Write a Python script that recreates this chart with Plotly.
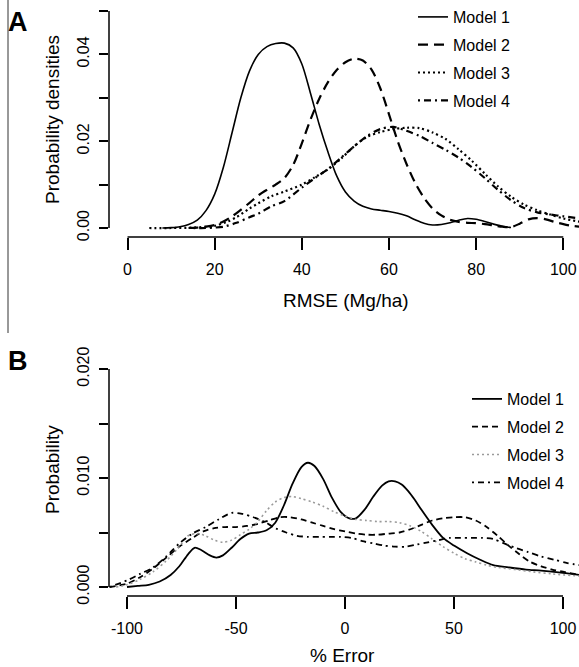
import plotly.graph_objects as go

# ---------------- Panel A data (RMSE, Mg/ha) ----------------
a_m1_x = [8, 10, 12, 14, 16, 18, 20, 22, 24, 26, 28, 30, 32, 34, 36, 38, 40, 42, 44, 46, 48, 50, 52, 54, 56, 58, 60, 62, 64,
          66, 68, 70, 72, 74, 76, 78, 80, 82, 84, 86, 88]
a_m1_y = [0.0, 0.0001, 0.0003, 0.0008, 0.0018, 0.0040, 0.0078, 0.0140, 0.0220, 0.0300, 0.0362, 0.0400, 0.0418, 0.0425, 0.0426,
          0.0415, 0.0378, 0.0310, 0.0238, 0.0175, 0.0120, 0.0083, 0.0062, 0.0050, 0.0044, 0.0041, 0.0038, 0.0034, 0.0028,
          0.0019, 0.0011, 0.0007, 0.0008, 0.0012, 0.0018, 0.0022, 0.0020, 0.0015, 0.0009, 0.0004, 0.0001]

a_m2_x = [14, 16, 18, 20, 22, 24, 26, 28, 30, 32, 34, 36, 38, 40, 42, 44, 46, 48, 50, 52, 54, 56, 58, 60, 62, 64, 66, 68, 70,
          72, 74, 76, 78, 80, 82, 84, 86, 88, 90, 92, 94, 96, 98, 100, 102, 104]
a_m2_y = [0.0, 0.0001, 0.0003, 0.0007, 0.0015, 0.0027, 0.0042, 0.0058, 0.0075, 0.0088, 0.0100, 0.0115, 0.0145, 0.0195, 0.0250,
          0.0298, 0.0336, 0.0364, 0.0382, 0.0390, 0.0386, 0.0365, 0.0322, 0.0262, 0.0200, 0.0148, 0.0104, 0.0070, 0.0045,
          0.0029, 0.0019, 0.0014, 0.0012, 0.0011, 0.0009, 0.0006, 0.0003, 0.0002, 0.0010, 0.0020, 0.0023, 0.0020, 0.0014,
          0.0009, 0.0005, 0.0003]

a_m3_x = [5, 10, 15, 20, 23, 25, 28, 30, 33, 36, 40, 43, 46, 49, 52, 55, 58, 61, 64, 67, 70, 73, 76, 79, 82, 85, 88, 91, 94, 97,
          100, 104]
a_m3_y = [0.0, 0.0, 0.0001, 0.0005, 0.0015, 0.0025, 0.0045, 0.0057, 0.0073, 0.0084, 0.0100, 0.0117, 0.0135, 0.016, 0.0188,
          0.021, 0.0221, 0.0228, 0.0231, 0.0230, 0.0220, 0.0205, 0.0181, 0.0155, 0.0125, 0.0096, 0.0072, 0.0054, 0.0041, 0.0031,
          0.0022, 0.0014]

a_m4_x = [15, 18, 20, 22, 25, 28, 30, 33, 36, 40, 43, 46, 49, 52, 55, 58, 61, 64, 67, 70, 73, 76, 79, 82, 85, 88, 91, 94, 97,
          100, 104]
a_m4_y = [0.0, 0.0, 0.0001, 0.0003, 0.0012, 0.0025, 0.0033, 0.0050, 0.0062, 0.0093, 0.0115, 0.0136, 0.0162, 0.0188, 0.0212,
          0.0228, 0.0233, 0.0224, 0.0212, 0.0196, 0.0180, 0.0162, 0.0140, 0.0115, 0.0088, 0.0064, 0.0046, 0.0036, 0.0031,
          0.0027, 0.0022]

# ---------------- Panel B data (% Error) ----------------
b_m1_x = [-100, -95, -90, -85, -80, -76, -72, -69, -66, -62, -59, -56, -52, -48, -44, -40, -36, -32, -28, -24, -20, -17, -14,
          -10, -6, -2, 2, 5, 9, 13, 17, 20, 23, 26, 29, 32, 35, 40, 45, 50, 56, 62, 68, 75, 83, 90, 100, 108]
b_m1_y = [0.0, 0.0001, 0.0002, 0.0005, 0.0011, 0.0019, 0.0030, 0.0036, 0.0034, 0.0029, 0.0027, 0.0029, 0.0036, 0.0044, 0.0049,
          0.0050, 0.0052, 0.0059, 0.0075, 0.0095, 0.0110, 0.0114, 0.0111, 0.0099, 0.0082, 0.0069, 0.0063, 0.0063, 0.0071,
          0.0083, 0.0093, 0.0097, 0.0097, 0.0094, 0.0088, 0.0080, 0.0071, 0.0057, 0.0045, 0.0038, 0.0031, 0.0025, 0.0020,
          0.0018, 0.0016, 0.0015, 0.0013, 0.0011]

b_m2_x = [-108, -100, -94, -88, -82, -76, -70, -65, -60, -55, -50, -45, -40, -35, -30, -25, -20, -15, -10, -5, 0, 5, 10, 15,
          20, 25, 30, 35, 40, 45, 50, 55, 60, 65, 70, 75, 80, 85, 90, 95, 100, 108]
b_m2_y = [0.0, 0.0003, 0.0009, 0.0017, 0.0027, 0.0037, 0.0045, 0.0051, 0.0054, 0.0055, 0.0055, 0.0056, 0.0058, 0.0061, 0.0064,
          0.0064, 0.0062, 0.0059, 0.0056, 0.0053, 0.0051, 0.0049, 0.0048, 0.0048, 0.0049, 0.0050, 0.0053, 0.0057, 0.0061,
          0.0063, 0.0064, 0.0064, 0.0061, 0.0055, 0.0047, 0.0038, 0.0030, 0.0023, 0.0019, 0.0016, 0.0014, 0.0011]

b_m3_x = [-105, -100, -94, -88, -82, -76, -72, -68, -64, -60, -56, -52, -48, -44, -40, -36, -32, -28, -24, -20, -15, -10, -5,
          0, 5, 10, 15, 20, 25, 30, 35, 40, 45, 50, 55, 60, 65, 70, 78, 86, 95, 108]
b_m3_y = [0.0, 0.0002, 0.0007, 0.0014, 0.0024, 0.0037, 0.0047, 0.0049, 0.0047, 0.0043, 0.0041, 0.0043, 0.0048, 0.0053, 0.0060,
          0.0070, 0.0078, 0.0082, 0.0083, 0.0081, 0.0078, 0.0074, 0.0069, 0.0065, 0.0062, 0.0061, 0.0060, 0.0060, 0.0059,
          0.0056, 0.0051, 0.0044, 0.0037, 0.0031, 0.0026, 0.0023, 0.0020, 0.0018, 0.0016, 0.0014, 0.0012, 0.0010]

b_m4_x = [-108, -100, -94, -88, -82, -76, -70, -64, -58, -52, -47, -42, -37, -32, -27, -22, -17, -12, -7, -2, 3, 8, 13, 18, 23,
          28, 33, 38, 43, 48, 53, 58, 63, 68, 73, 78, 84, 90, 96, 102, 108]
b_m4_y = [0.0, 0.0006, 0.0012, 0.0018, 0.0028, 0.0040, 0.0049, 0.0055, 0.0062, 0.0068, 0.0067, 0.0064, 0.0060, 0.0054, 0.0050,
          0.0047, 0.0046, 0.0046, 0.0046, 0.0046, 0.0045, 0.0042, 0.0040, 0.0038, 0.0037, 0.0037, 0.0039, 0.0041, 0.0043,
          0.0045, 0.0045, 0.0045, 0.0045, 0.0044, 0.0040, 0.0036, 0.0032, 0.0028, 0.0025, 0.0022, 0.0020]

model_names = ["Model 1", "Model 2", "Model 3", "Model 4"]

a_xticks = [0, 20, 40, 60, 80, 100]
a_yticks = [0, 0.01, 0.02, 0.03, 0.04, 0.05]
a_yticklabels = ["0.00", "", "0.02", "", "0.04", ""]
b_xticks = [-100, -50, 0, 50, 100]
b_xticklabels = ["-100", "-50", "0", "50", "100"]
b_yticks = [0, 0.005, 0.010, 0.015, 0.020]
b_yticklabels = ["0.000", "", "0.010", "", "0.020"]

FONT = "Liberation Sans, Arial, Helvetica, sans-serif"
W, H = 579, 667

a_styles = [dict(color="black", width=1.6, dash="solid"),
            dict(color="black", width=2.2, dash="10px,6px"),
            dict(color="black", width=2.2, dash="2px,3px"),
            dict(color="black", width=2.2, dash="2px,4px,7px,4px")]
b_styles = [dict(color="black", width=1.8, dash="solid"),
            dict(color="black", width=1.8, dash="6px,4px"),
            dict(color="#9a9a9a", width=1.6, dash="2px,3px"),
            dict(color="black", width=1.8, dash="2px,4px,6px,4px")]

fig = go.Figure()
a_data = [(a_m1_x, a_m1_y), (a_m2_x, a_m2_y), (a_m3_x, a_m3_y), (a_m4_x, a_m4_y)]
b_data = [(b_m1_x, b_m1_y), (b_m2_x, b_m2_y), (b_m3_x, b_m3_y), (b_m4_x, b_m4_y)]
for i, (xs, ys) in enumerate(a_data):
    fig.add_trace(go.Scatter(x=xs, y=ys, mode="lines", name=model_names[i], line=dict(shape="spline", smoothing=0.8, **a_styles[i]),
                             xaxis="x", yaxis="y", legend="legend", legendgroup="a%d" % i))
for i, (xs, ys) in enumerate(b_data):
    fig.add_trace(go.Scatter(x=xs, y=ys, mode="lines", name=model_names[i], line=dict(shape="spline", smoothing=0.8, **b_styles[i]),
                             xaxis="x2", yaxis="y2", legend="legend2", legendgroup="b%d" % i))

def px_x(p):
    return p / W

def px_y(p):
    return 1 - p / H

xdom = [px_x(109), 1.0]
tickfont = dict(family=FONT, size=16, color="black")

common_x = dict(showgrid=False, zeroline=False, showline=False, ticks="outside", ticklen=12, tickwidth=1.5,
                tickcolor="black", tickfont=tickfont, ticklabelstandoff=6, ticklabeloverflow="allow", automargin=False)
common_y = dict(showgrid=False, zeroline=False, showline=False, ticks="outside", ticklen=9, tickwidth=1.5,
                tickcolor="black", tickfont=tickfont, tickangle=-90, ticklabelstandoff=4, automargin=False)

fig.update_layout(
    width=W, height=H, margin=dict(l=0, r=0, t=0, b=0, autoexpand=False),
    paper_bgcolor="white", plot_bgcolor="white",
    font=dict(family=FONT, color="black"),
    xaxis=dict(domain=xdom, range=[-4.25, 103.6], anchor="y", tickvals=a_xticks, **common_x),
    yaxis=dict(domain=[px_y(237), px_y(3)], range=[-0.00207, 0.05184], anchor="x", tickvals=a_yticks,
               ticktext=a_yticklabels, **common_y),
    xaxis2=dict(domain=xdom, range=[-108.26, 107.34], anchor="y2", tickvals=b_xticks, ticktext=b_xticklabels,
                **common_x),
    yaxis2=dict(domain=[px_y(596), px_y(343)], range=[-0.000826, 0.022385], anchor="x2", tickvals=b_yticks,
                ticktext=b_yticklabels, **common_y),
    legend=dict(x=px_x(413), y=1.0, xanchor="left", yanchor="top", bgcolor="rgba(0,0,0,0)",
                font=dict(family=FONT, size=16, color="black"), traceorder="grouped", tracegroupgap=4),
    legend2=dict(x=px_x(467), y=px_y(382), xanchor="left", yanchor="top", bgcolor="rgba(0,0,0,0)",
                 font=dict(family=FONT, size=16, color="black"), traceorder="grouped", tracegroupgap=4),
    showlegend=True,
)

# R-style detached axis lines spanning only the tick range
axis_line = dict(color="black", width=1.5)
fig.add_shape(type="line", xref="x", yref="y domain", x0=a_xticks[0], x1=a_xticks[-1], y0=0, y1=0, line=axis_line)
fig.add_shape(type="line", xref="x domain", yref="y", x0=0, x1=0, y0=a_yticks[0], y1=a_yticks[-1], line=axis_line)
fig.add_shape(type="line", xref="x2", yref="y2 domain", x0=b_xticks[0], x1=b_xticks[-1], y0=0, y1=0, line=axis_line)
fig.add_shape(type="line", xref="x2 domain", yref="y2", x0=0, x1=0, y0=b_yticks[0], y1=b_yticks[-1], line=axis_line)
# thin frame line at the left of panel A
fig.add_shape(type="line", xref="paper", yref="paper", x0=px_x(8), x1=px_x(8), y0=px_y(0), y1=px_y(333),
              line=dict(color="#333333", width=1))

ann = []
ann.append(dict(text="<b>A</b>", x=px_x(18), y=px_y(22), xref="paper", yref="paper", showarrow=False,
                font=dict(family=FONT, size=27, color="black"), xanchor="center", yanchor="middle"))
ann.append(dict(text="<b>B</b>", x=px_x(18), y=px_y(361), xref="paper", yref="paper", showarrow=False,
                font=dict(family=FONT, size=27, color="black"), xanchor="center", yanchor="middle"))
ann.append(dict(text="RMSE (Mg/ha)", x=px_x(346), y=px_y(300), xref="paper", yref="paper", showarrow=False,
                font=dict(family=FONT, size=19, color="black"), xanchor="center", yanchor="middle"))
ann.append(dict(text="% Error", x=px_x(342), y=px_y(655), xref="paper", yref="paper", showarrow=False,
                font=dict(family=FONT, size=19, color="black"), xanchor="center", yanchor="middle"))
ann.append(dict(text="Probability densities", x=px_x(52), y=px_y(120), xref="paper", yref="paper", showarrow=False,
                textangle=-90, font=dict(family=FONT, size=19, color="black"), xanchor="center", yanchor="middle"))
ann.append(dict(text="Probability", x=px_x(52), y=px_y(470), xref="paper", yref="paper", showarrow=False,
                textangle=-90, font=dict(family=FONT, size=19, color="black"), xanchor="center", yanchor="middle"))
fig.update_layout(annotations=ann)

fig.write_html("out.html", config={"displayModeBar": False},
               post_script="document.body.style.margin='0';document.body.style.overflow='hidden';")
